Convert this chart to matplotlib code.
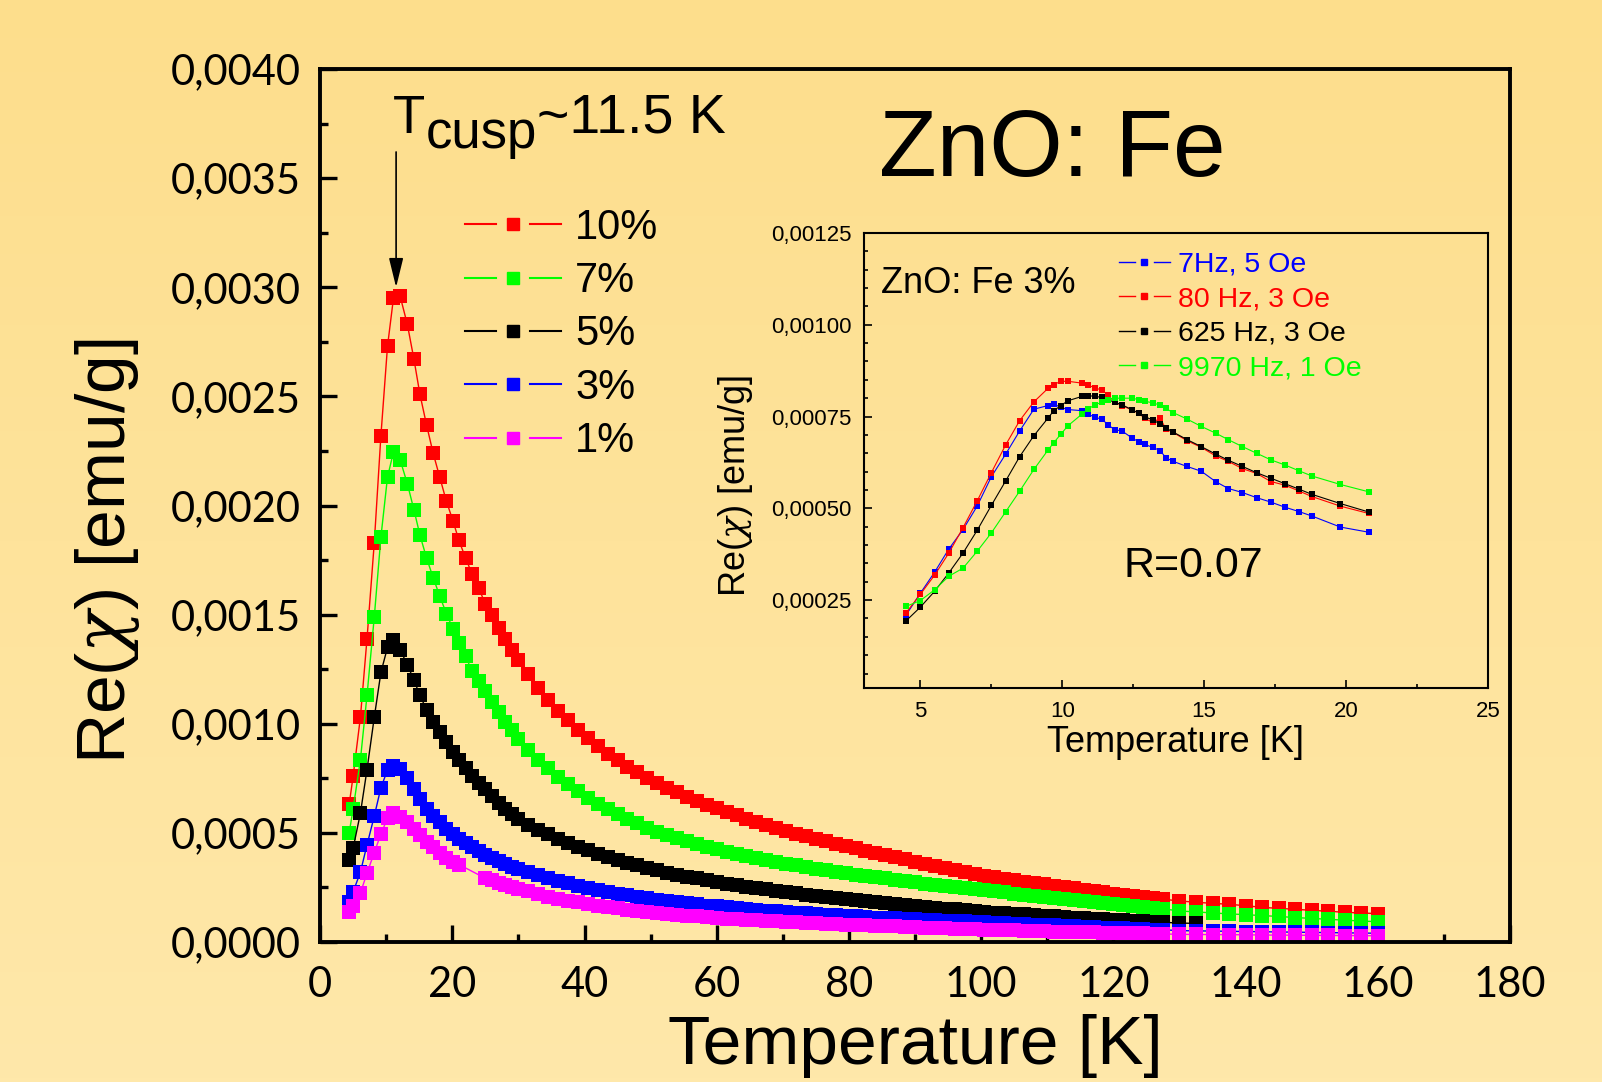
import numpy as np
import matplotlib
matplotlib.use('Agg')
import matplotlib.pyplot as plt
from matplotlib.lines import Line2D
from matplotlib.legend_handler import HandlerBase
from matplotlib.ticker import MultipleLocator, FixedLocator, FuncFormatter

plt.rcParams['font.family'] = ['Liberation Sans', 'DejaVu Sans']
plt.rcParams['mathtext.fontset'] = 'custom'
plt.rcParams['mathtext.rm'] = 'Liberation Sans'
plt.rcParams['mathtext.it'] = 'DejaVu Serif:italic'

# ---- main plot data: Re(chi) in units of 1e-4 emu/g ----
T_main = [4.4, 5.0, 6.1, 7.1, 8.2, 9.2, 10.2, 11.1, 12.1,
          13.2, 14.2, 15.1, 16.1, 17.1, 18.1, 19.1, 20.1, 21.0, 22.0, 23.0, 24.0,
          25.0, 26.0, 27.0, 28.0, 29.0, 30.0,
          31.5, 33.0, 34.5, 36.0, 37.5, 39.0, 40.5, 42.0, 43.5, 45.0, 46.5, 48.0,
          49.5, 51.0, 52.5, 54.0, 55.5, 57.0, 58.5, 60.0, 61.5, 63.0, 64.5, 66.0,
          67.5, 69.0, 70.5, 72.0, 73.5, 75.0, 76.5, 78.0, 79.5, 81.0, 82.5, 84.0,
          85.5, 87.0, 88.5, 90.0, 91.5, 93.0, 94.5, 96.0, 97.5, 99.0, 100.5, 102.0,
          103.5, 105.0, 106.5, 108.0, 109.5, 111.0, 112.5, 114.0, 115.5, 117.0,
          118.5, 120.0, 121.5, 123.0, 124.5, 126.0, 127.5,
          130.0, 132.5, 135.0, 137.5, 140.0, 142.5, 145.0, 147.5, 150.0, 152.5,
          155.0, 157.5, 160.0]

fe10 = [6.3, 7.6, 10.3, 13.9, 18.3, 23.2, 27.3, 29.5, 29.6,
        28.3, 26.7, 25.1, 23.7, 22.4, 21.3, 20.2, 19.3, 18.4, 17.6, 16.85, 16.2,
        15.5, 15.0, 14.4, 13.9, 13.4, 12.9,
        12.3, 11.65, 11.1, 10.6, 10.15, 9.72, 9.33, 8.97, 8.63, 8.32, 8.03, 7.77,
        7.52, 7.29, 7.07, 6.86, 6.66, 6.47, 6.29, 6.12, 5.96, 5.8, 5.65, 5.5,
        5.36, 5.22, 5.09, 4.97, 4.85, 4.73, 4.62, 4.51, 4.4, 4.29, 4.19, 4.09,
        3.99, 3.89, 3.79, 3.68, 3.58, 3.48, 3.38, 3.28, 3.2, 3.12, 3.04, 2.97,
        2.9, 2.83, 2.77, 2.7, 2.64, 2.58, 2.52, 2.46, 2.4, 2.34,
        2.28, 2.22, 2.16, 2.1, 2.05, 2.0, 1.96,
        1.88, 1.82, 1.77, 1.73, 1.66, 1.59, 1.54, 1.5, 1.45, 1.41,
        1.36, 1.33, 1.3]

fe7 = [5.0, 6.1, 8.35, 11.3, 14.9, 18.55, 21.3, 22.45, 22.1,
       21.0, 19.8, 18.65, 17.6, 16.7, 15.85, 15.05, 14.35, 13.7, 13.1, 12.4, 11.95,
       11.5, 11.0, 10.55, 10.1, 9.7, 9.3,
       8.8, 8.35, 7.95, 7.57, 7.22, 6.9, 6.6, 6.33, 6.08, 5.85, 5.63, 5.43,
       5.24, 5.06, 4.9, 4.75, 4.61, 4.48, 4.36, 4.25, 4.14, 4.04, 3.94, 3.85,
       3.76, 3.67, 3.59, 3.51, 3.43, 3.36, 3.29, 3.22, 3.15, 3.09, 3.03, 2.97,
       2.91, 2.85, 2.79, 2.74, 2.68, 2.63, 2.57, 2.52, 2.47, 2.42, 2.37, 2.32,
       2.27, 2.22, 2.17, 2.12, 2.07, 2.02, 1.97, 1.92, 1.88, 1.83,
       1.78, 1.73, 1.68, 1.64, 1.6, 1.56, 1.52,
       1.42, 1.38, 1.33, 1.29, 1.25, 1.21, 1.17, 1.12, 1.08, 1.04,
       1.0, 0.96, 0.93]

fe5 = [3.75, 4.3, 5.9, 7.9, 10.3, 12.35, 13.5, 13.85, 13.4,
       12.7, 12.0, 11.3, 10.65, 10.1, 9.6, 9.15, 8.72, 8.34, 7.98, 7.62, 7.3,
       7.0, 6.68, 6.38, 6.1, 5.85, 5.62,
       5.38, 5.15, 4.93, 4.73, 4.54, 4.36, 4.2, 4.05, 3.91, 3.77, 3.64, 3.52,
       3.39, 3.28, 3.18, 3.09, 3.0, 2.91, 2.83, 2.75, 2.68, 2.61, 2.54, 2.47,
       2.41, 2.35, 2.29, 2.23, 2.17, 2.12, 2.07, 2.02, 1.97, 1.92, 1.87, 1.83,
       1.78, 1.74, 1.7, 1.65, 1.61, 1.57, 1.53, 1.49, 1.45, 1.42, 1.38, 1.35,
       1.32, 1.29, 1.26, 1.23, 1.2, 1.17, 1.14, 1.12, 1.09, 1.06,
       1.04, 1.01, 0.99, 0.96, 0.94, 0.92, 0.9,
       0.87, 0.85]

fe3 = [1.85, 2.3, 3.2, 4.45, 5.77, 7.07, 7.88, 8.08, 7.91,
       7.5, 7.0, 6.54, 6.1, 5.78, 5.5, 5.2, 4.95, 4.73, 4.52, 4.33, 4.15,
       3.99, 3.84, 3.7, 3.57, 3.45, 3.34,
       3.19, 3.05, 2.92, 2.8, 2.69, 2.58, 2.48, 2.39, 2.3, 2.22, 2.14, 2.07,
       2.0, 1.94, 1.88, 1.82, 1.77, 1.72, 1.67, 1.63, 1.59, 1.55, 1.51, 1.47,
       1.44, 1.4, 1.37, 1.34, 1.31, 1.28, 1.25, 1.22, 1.2, 1.17, 1.15, 1.12,
       1.1, 1.08, 1.06, 1.04, 1.02, 1.0, 0.98, 0.96, 0.94, 0.92, 0.9, 0.88,
       0.86, 0.84, 0.82, 0.8, 0.78, 0.76, 0.74, 0.72, 0.7, 0.68,
       0.66, 0.64, 0.62, 0.6, 0.59, 0.57, 0.56,
       0.52, 0.51, 0.5, 0.49, 0.48, 0.47, 0.46, 0.45, 0.44, 0.43,
       0.42, 0.41, 0.4]

# 1% sample has no points between 21 K and 25 K
fe1 = [1.36, 1.65, 2.25, 3.15, 4.1, 4.95, 5.67, 5.9, 5.74,
       5.5, 5.2, 4.88, 4.57, 4.33, 4.06, 3.83, 3.67, 3.55, None, None, None,
       2.92, 2.82, 2.72, 2.63, 2.53, 2.44,
       2.32, 2.2, 2.08, 1.98, 1.89, 1.81, 1.74, 1.67, 1.6, 1.54, 1.48, 1.42,
       1.37, 1.33, 1.29, 1.25, 1.21, 1.17, 1.14, 1.1, 1.07, 1.04, 1.02, 0.99,
       0.97, 0.94, 0.92, 0.9, 0.88, 0.86, 0.84, 0.82, 0.8, 0.78, 0.76, 0.74,
       0.72, 0.71, 0.69, 0.67, 0.66, 0.64, 0.63, 0.61, 0.6, 0.58, 0.57, 0.56,
       0.54, 0.53, 0.52, 0.51, 0.49, 0.48, 0.47, 0.46, 0.45, 0.44,
       0.43, 0.42, 0.41, 0.4, 0.39, 0.38, 0.37,
       0.35, 0.345, 0.34, 0.335, 0.33, 0.32, 0.315, 0.31, 0.305, 0.3,
       0.295, 0.29, 0.285]

main_labels = ['10%', '7%', '5%', '3%', '1%']
main_colors = ['#ff0000', '#00ff00', '#000000', '#0000ff', '#ff00ff']

# ---- inset data (ZnO:Fe 3%), units of 1e-4 emu/g ----
T_inset = [4.5, 5.0, 5.5, 6.0, 6.5, 7.0, 7.5, 8.0, 8.5, 9.0, 9.5, 9.7, 9.95, 10.2,
           10.7, 10.9, 11.15, 11.4, 11.6, 11.85, 12.1, 12.45, 12.7, 12.9, 13.2,
           13.45, 13.65, 13.9, 14.4, 14.9, 15.4, 15.85, 16.35, 16.85, 17.35,
           17.85, 18.35, 18.8, 19.8, 20.8]
hz7 = [2.10, 2.69, 3.26, 3.89, 4.42, 5.06, 5.86, 6.47, 7.11, 7.70, 7.80, 7.84, 7.75, 7.69,
       7.66, 7.57, 7.48, 7.43, 7.28, 7.14, 7.11, 6.92, 6.81, 6.74, 6.66,
       6.57, 6.38, 6.28, 6.14, 6.01, 5.73, 5.54, 5.43, 5.29, 5.17,
       5.03, 4.91, 4.79, 4.49, 4.35]
hz80 = [2.16, 2.66, 3.18, 3.78, 4.47, 5.20, 5.97, 6.72, 7.39, 7.90, 8.27, 8.37, 8.46, 8.46,
        8.41, 8.36, 8.28, 8.22, 8.09, 7.89, 7.80, 7.68, 7.59, 7.45, 7.34,
        7.46, 7.16, 7.07, 6.84, 6.66, 6.43, 6.28, 6.08, 5.95, 5.73,
        5.63, 5.47, 5.32, 5.06, 4.86]
hz625 = [1.94, 2.31, 2.74, 3.24, 3.78, 4.40, 5.08, 5.74, 6.41, 6.98, 7.46, 7.66, 7.80, 7.93,
         8.05, 8.07, 8.05, 8.02, 7.96, 7.89, 7.82, 7.69, 7.59, 7.50, 7.40,
         7.30, 7.19, 7.08, 6.87, 6.68, 6.48, 6.31, 6.14, 5.97, 5.82,
         5.67, 5.52, 5.38, 5.13, 4.90]
hz9970 = [2.33, 2.49, 2.78, 3.15, 3.37, 3.83, 4.33, 4.90, 5.47, 6.06, 6.59, 6.79, 7.02, 7.25,
          7.57, 7.70, 7.82, 7.89, 7.96, 8.00, 8.00, 8.00, 7.96, 7.92, 7.87,
          7.81, 7.72, 7.61, 7.43, 7.23, 7.05, 6.87, 6.68, 6.50, 6.32,
          6.18, 6.02, 5.88, 5.65, 5.45]
inset_labels = ['7Hz, 5 Oe', '80 Hz, 3 Oe', '625 Hz, 3 Oe', '9970 Hz, 1 Oe']
inset_colors = ['#0000ff', '#ff0000', '#000000', '#00ff00']

T_CUSP = 11.5


class GapLineHandler(HandlerBase):
    """Origin style legend symbol: line - marker - line with gaps."""
    def create_artists(self, legend, orig_handle, xdescent, ydescent,
                       width, height, fontsize, trans):
        y = (height - ydescent) / 2
        x0 = -xdescent
        c = orig_handle.get_color()
        lw = orig_handle.get_linewidth()
        a = Line2D([x0, x0 + 0.32 * width], [y, y], color=c, lw=lw)
        b = Line2D([x0 + 0.68 * width, x0 + width], [y, y], color=c, lw=lw)
        m = Line2D([x0 + 0.5 * width], [y], color=c, marker='s', ls='none',
                   ms=orig_handle.get_markersize(), mec=c)
        for art in (a, b, m):
            art.set_transform(trans)
        return [a, b, m]


fig = plt.figure(figsize=(16.02, 10.82), dpi=100)

# background gradient
bg = fig.add_axes([0, 0, 1, 1], zorder=-1)
top = np.array([253, 222, 140]) / 255.0
bot = np.array([255, 232, 170]) / 255.0
frac = np.linspace(0, 1, 256)[:, None, None]
bg.imshow(top + (bot - top) * frac, aspect='auto', extent=[0, 1, 0, 1])
bg.axis('off')

# ---- main axes ----
ax = fig.add_axes([0.1998, 0.1294, 0.7428, 0.8068])
ax.set_facecolor('none')
for vals, c in zip([fe10, fe7, fe5, fe3, fe1], main_colors):
    pts = [(t, v) for t, v in zip(T_main, vals) if v is not None]
    ax.plot([p[0] for p in pts], [p[1] * 1e-4 for p in pts], color=c, lw=1.0,
            marker='s', ms=9.5, mec=c, mew=0)

ax.set_xlim(0, 180)
ax.set_ylim(0, 0.004)
ax.xaxis.set_major_locator(MultipleLocator(20))
ax.xaxis.set_minor_locator(MultipleLocator(10))
ax.yaxis.set_major_locator(MultipleLocator(0.0005))
ax.yaxis.set_minor_locator(MultipleLocator(0.00025))
ax.yaxis.set_major_formatter(FuncFormatter(lambda v, p: f'{v:.4f}'.replace('.', ',')))
ax.tick_params(which='both', direction='in', top=False, right=False,
               labelsize=30, labelfontfamily='Lato')
ax.tick_params(which='major', length=12, width=2.4)
ax.tick_params(which='minor', length=6, width=2.4)
ax.tick_params(axis='y', pad=14)
ax.tick_params(axis='x', pad=17)
for s in ax.spines.values():
    s.set_linewidth(2.8)

ax.set_xlabel('Temperature [K]', fontsize=50)
ax.xaxis.set_label_coords(0.5, -0.083)
ax.set_ylabel(r'Re($\chi$) [emu/g]', fontsize=50)
ax.yaxis.set_label_coords(-0.150, 0.448)

ax.text(0.4697, 0.8774, 'ZnO: Fe', transform=ax.transAxes, fontsize=68, va='baseline')

# T_cusp label: subscript nearly full size, set lower than the T
drop = 10.6
t_T = ax.text(0.0612, 0.9267, 'T', transform=ax.transAxes, fontsize=38, va='baseline')
t_sub = ax.annotate('cusp', xy=(1, 0), xycoords=t_T, xytext=(0.5, -drop),
                    textcoords='offset points', fontsize=38, va='bottom', ha='left')
ax.annotate('~11.5 K', xy=(1, 0), xycoords=t_sub, xytext=(0, drop),
            textcoords='offset points', fontsize=40, va='bottom', ha='left')
ax.annotate('', xy=(T_CUSP, 0.00300), xytext=(T_CUSP, 0.00362),
            arrowprops=dict(arrowstyle='-|>,head_length=0.9,head_width=0.22',
                            color='black', lw=1.2, mutation_scale=20,
                            shrinkA=0, shrinkB=0))

main_handles = [Line2D([], [], color=c, lw=1.5, marker='s', ms=8) for c in main_colors]
ax.legend(main_handles, main_labels, loc='upper left', bbox_to_anchor=(0.1218, 0.841),
          frameon=False, fontsize=30, handlelength=2.3, handletextpad=0.34,
          labelspacing=0.32, borderpad=0, borderaxespad=0,
          handler_map={Line2D: GapLineHandler()})

# ---- inset ----
axi = fig.add_axes([0.5391, 0.3639, 0.3897, 0.4208])
axi.set_facecolor('none')
for vals, c in zip([hz7, hz80, hz625, hz9970], inset_colors):
    axi.plot(T_inset, [v * 1e-4 for v in vals], color=c, lw=0.8, marker='s',
             ms=4.3, mec=c, mew=0)
axi.set_xlim(3, 25)
axi.set_ylim(0.00001, 0.00125)
axi.xaxis.set_major_locator(MultipleLocator(5))
axi.xaxis.set_minor_locator(MultipleLocator(2.5))
axi.yaxis.set_major_locator(FixedLocator([0.00025, 0.0005, 0.00075, 0.001, 0.00125]))
axi.yaxis.set_minor_locator(MultipleLocator(0.00005))
axi.yaxis.set_major_formatter(FuncFormatter(lambda v, p: f'{v:.5f}'.replace('.', ',')))
axi.xaxis.set_major_formatter(FuncFormatter(lambda v, p: f'{v:g}'))
axi.tick_params(which='both', direction='in', top=False, right=False, labelsize=16)
axi.tick_params(which='major', length=6, width=1.2)
axi.tick_params(which='minor', length=3, width=1.2)
axi.tick_params(axis='y', pad=8.5)
axi.tick_params(axis='x', pad=9)
for s in axi.spines.values():
    s.set_linewidth(1.5)
axi.set_xlabel('Temperature [K]', fontsize=26)
axi.xaxis.set_label_coords(0.5, -0.081)
axi.set_ylabel(r'Re($\chi$) [emu/g]', fontsize=26)
axi.yaxis.set_label_coords(-0.174, 0.444)
axi.text(0.0272, 0.8676, 'ZnO: Fe 3%', transform=axi.transAxes, fontsize=26, va='baseline')
axi.text(0.417, 0.245, 'R=0.07', transform=axi.transAxes, fontsize=31, va='baseline')

inset_handles = [Line2D([], [], color=c, lw=1.0, marker='s', ms=4.3) for c in inset_colors]
axi.legend(inset_handles, inset_labels, loc='upper left', bbox_to_anchor=(0.4086, 0.959),
           frameon=False, fontsize=20.5, handlelength=1.8, handletextpad=0.28,
           labelspacing=0.3, borderpad=0, borderaxespad=0, labelcolor='linecolor',
           handler_map={Line2D: GapLineHandler()})

fig.savefig('out.png', dpi=100)
